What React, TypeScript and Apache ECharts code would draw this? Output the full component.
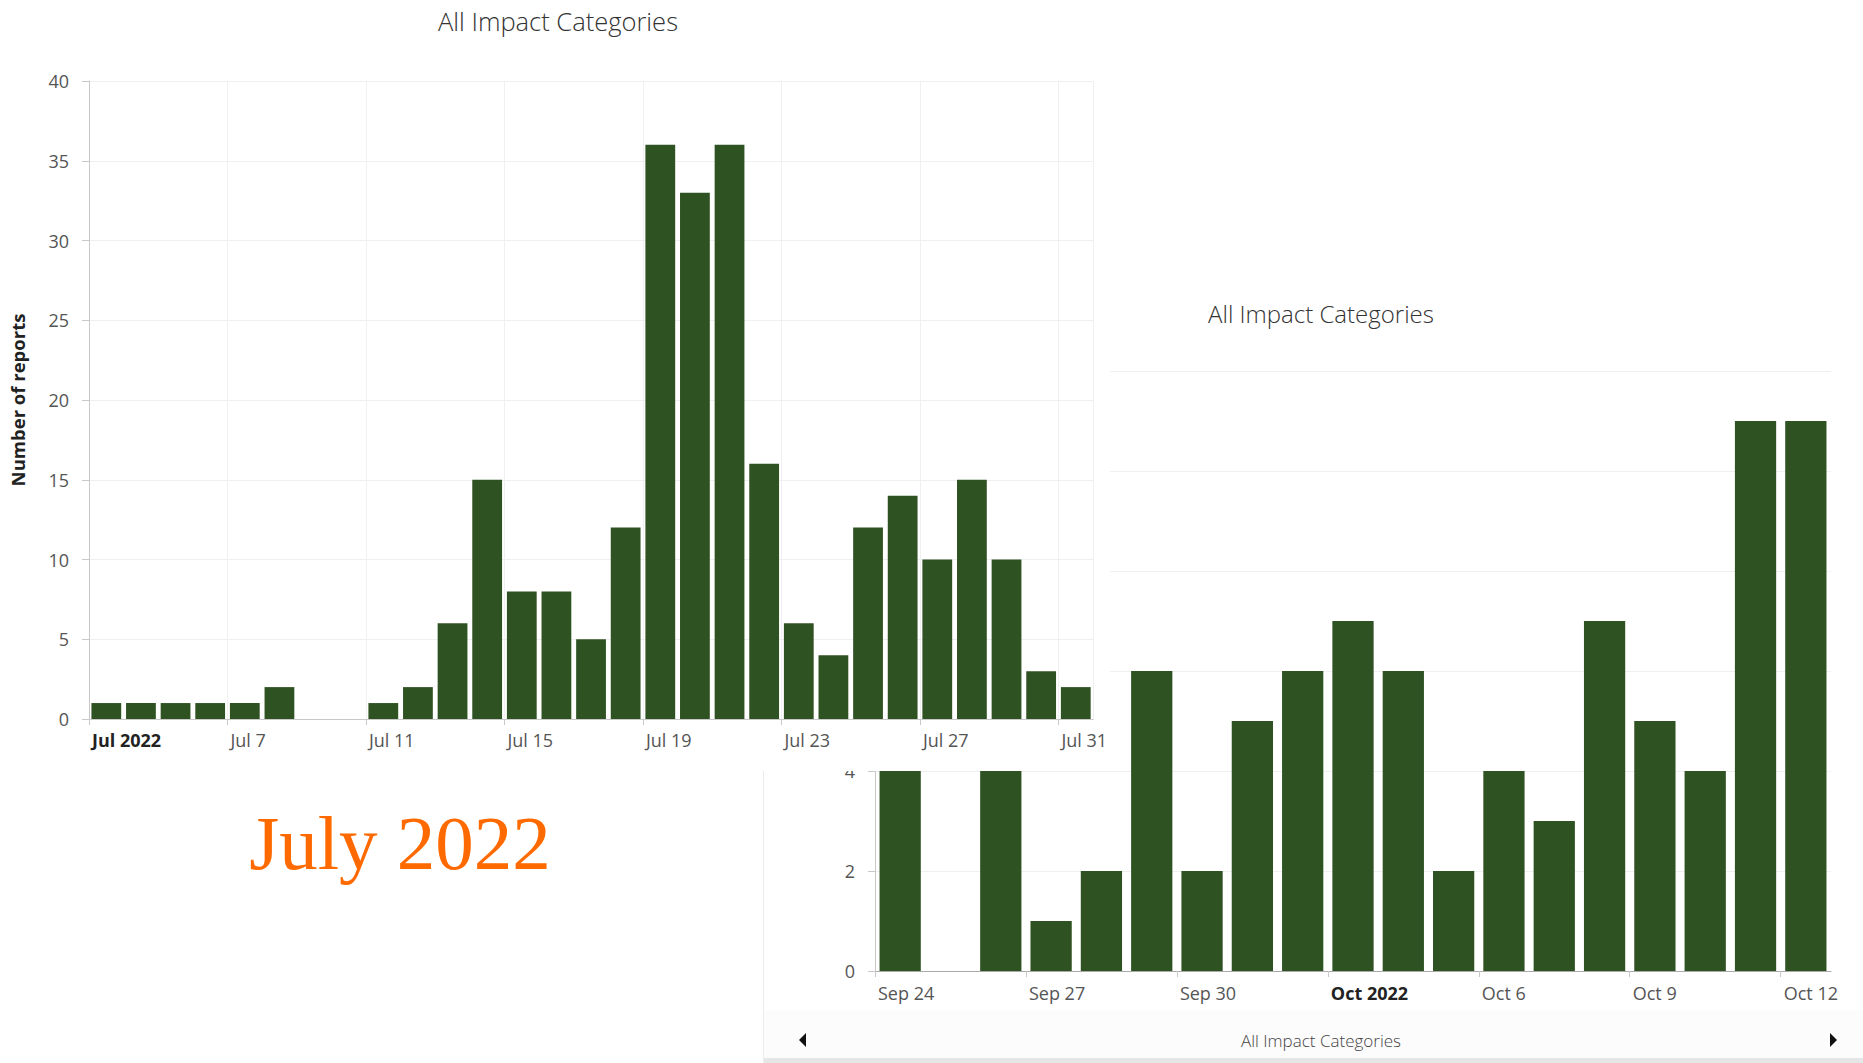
import React, { useEffect, useRef } from "react";
import * as echarts from "echarts";

// ---------- data ----------
const julyDays = [
  "Jul 3", "Jul 4", "Jul 5", "Jul 6", "Jul 7", "Jul 8", "Jul 9", "Jul 10",
  "Jul 11", "Jul 12", "Jul 13", "Jul 14", "Jul 15", "Jul 16", "Jul 17", "Jul 18",
  "Jul 19", "Jul 20", "Jul 21", "Jul 22", "Jul 23", "Jul 24", "Jul 25", "Jul 26",
  "Jul 27", "Jul 28", "Jul 29", "Jul 30", "Jul 31",
];
const julyReports = [
  1, 1, 1, 1, 1, 2, 0, 0, 1, 2, 6, 15, 8, 8, 5, 12, 36, 33, 36, 16, 6, 4, 12, 14, 10, 15, 10, 3, 2,
];
const julyTickLabels = ["Jul 2022", "Jul 7", "Jul 11", "Jul 15", "Jul 19", "Jul 23", "Jul 27", "Jul 31"];
const julyTickStep = 4;

const octDays = [
  "Sep 24", "Sep 25", "Sep 26", "Sep 27", "Sep 28", "Sep 29", "Sep 30", "Oct 1",
  "Oct 2", "Oct 3", "Oct 4", "Oct 5", "Oct 6", "Oct 7", "Oct 8", "Oct 9",
  "Oct 10", "Oct 11", "Oct 12",
];
const octReports = [5, 0, 5, 1, 2, 6, 2, 5, 6, 7, 6, 2, 4, 3, 7, 5, 4, 11, 11];
const octTickLabels = ["Sep 24", "Sep 27", "Sep 30", "Oct 2022", "Oct 6", "Oct 9", "Oct 12"];
const octTickStep = 3;

const chartTitle = "All Impact Categories";
const yAxisTitle = "Number of reports";
const bigCaption = "July 2022";

// ---------- style ----------
const FONT = "'Open Sans', 'Noto Sans', sans-serif";
const BAR = "#2f5222";
const AXIS = "#c8c8c8";
const GRID = "#f0f0f0";
const LABEL = "#555555";

function makeTickFormatter(labels: string[], step: number) {
  return (v: number) => {
    if (v % step !== 0) return "";
    const s = labels[Math.round(v / step)];
    if (!s) return "";
    return /\d{4}$/.test(s) ? `{b|${s}}` : s;
  };
}

function leftOption(): any {
  return {
    animation: false,
    textStyle: { fontFamily: FONT },
    graphic: [
      {
        type: "text",
        x: 558,
        y: 21,
        style: {
          text: chartTitle,
          fontFamily: FONT,
          fontSize: 25.5,
          fontWeight: 300,
          fill: "#333",
          align: "center",
          verticalAlign: "middle",
        },
      },
    ],
    grid: { left: 85, top: 81, width: 1012, height: 638 },
    xAxis: [
      {
        type: "category",
        data: julyDays,
        axisLine: { show: true, lineStyle: { color: AXIS } },
        axisTick: { show: false },
        axisLabel: { show: false },
        splitLine: { show: false },
      },
      {
        type: "value",
        position: "bottom",
        min: 0,
        max: julyDays.length,
        interval: julyTickStep,
        axisLine: { show: false },
        axisTick: { show: true, length: 6, lineStyle: { color: AXIS } },
        axisLabel: {
          align: "left",
          margin: 12,
          padding: [0, 0, 0, 3],
          color: LABEL,
          fontSize: 18,
          fontFamily: FONT,
          showMaxLabel: false,
          formatter: makeTickFormatter(julyTickLabels, julyTickStep),
          rich: { b: { fontWeight: "bold", color: "#222", fontSize: 18, fontFamily: FONT } },
        },
        splitLine: { show: true, lineStyle: { color: GRID } },
      },
    ],
    yAxis: {
      type: "value",
      min: 0,
      max: 40,
      interval: 5,
      name: yAxisTitle,
      nameLocation: "middle",
      nameRotate: 90,
      nameGap: 62,
      nameTextStyle: { fontWeight: "bold", fontSize: 18.5, color: "#222", fontFamily: FONT },
      axisLine: { show: true, lineStyle: { color: AXIS } },
      axisTick: { show: true, length: 7, lineStyle: { color: AXIS } },
      axisLabel: { margin: 20, color: LABEL, fontSize: 18, fontFamily: FONT },
      splitLine: { show: true, lineStyle: { color: GRID } },
    },
    series: [
      {
        type: "bar",
        xAxisIndex: 0,
        data: julyReports,
        barWidth: "86%",
        itemStyle: { color: BAR },
      },
    ],
  };
}

function rightOption(): any {
  return {
    animation: false,
    textStyle: { fontFamily: FONT },
    graphic: [
      { type: "rect", shape: { x: 763, y: 1010, width: 1100, height: 48 }, style: { fill: "#fcfcfc" }, z: -10 },
      { type: "rect", shape: { x: 763, y: 1058, width: 1100, height: 5 }, style: { fill: "#e6e6e6" }, z: -10 },
      { type: "line", shape: { x1: 763.5, y1: 771, x2: 763.5, y2: 1063 }, style: { stroke: "#ececec", lineWidth: 1 } },
      {
        type: "text",
        x: 1321,
        y: 313,
        style: { text: chartTitle, fontFamily: FONT, fontSize: 24, fontWeight: 300, fill: "#333", align: "center", verticalAlign: "middle" },
      },
      {
        type: "text",
        x: 1321,
        y: 1040,
        style: { text: chartTitle, fontFamily: FONT, fontSize: 17, fontWeight: 300, fill: "#444", align: "center", verticalAlign: "middle" },
      },
      { type: "polygon", shape: { points: [[799, 1040], [806, 1033], [806, 1047]] }, style: { fill: "#111" } },
      { type: "polygon", shape: { points: [[1837, 1040], [1830, 1033], [1830, 1047]] }, style: { fill: "#111" } },
      {
        type: "text",
        x: 400,
        y: 843,
        style: {
          text: bigCaption,
          fontFamily: "'Liberation Serif', 'DejaVu Serif', serif",
          fontSize: 77,
          fill: "#ff6a00",
          align: "center",
          verticalAlign: "middle",
        },
      },
    ],
    grid: { left: 875, top: 371, width: 956, height: 600 },
    xAxis: [
      {
        type: "category",
        data: octDays,
        axisLine: { show: true, lineStyle: { color: "#aaaaaa" } },
        axisTick: { show: false },
        axisLabel: { show: false },
        splitLine: { show: false },
      },
      {
        type: "value",
        position: "bottom",
        min: 0,
        max: octDays.length,
        interval: octTickStep,
        axisLine: { show: false },
        axisTick: { show: true, length: 6, lineStyle: { color: AXIS } },
        axisLabel: {
          align: "left",
          margin: 13,
          padding: [0, 0, 0, 3],
          color: LABEL,
          fontSize: 18,
          fontFamily: FONT,
          showMaxLabel: false,
          formatter: makeTickFormatter(octTickLabels, octTickStep),
          rich: { b: { fontWeight: "bold", color: "#222", fontSize: 18, fontFamily: FONT } },
        },
        splitLine: { show: false },
      },
    ],
    yAxis: {
      type: "value",
      min: 0,
      max: 12,
      interval: 2,
      axisLine: { show: true, lineStyle: { color: AXIS } },
      axisTick: { show: true, length: 7, lineStyle: { color: AXIS } },
      axisLabel: { margin: 20, color: LABEL, fontSize: 18, fontFamily: FONT },
      splitLine: { show: true, lineStyle: { color: GRID } },
    },
    series: [
      {
        type: "bar",
        xAxisIndex: 0,
        data: octReports,
        barWidth: "82%",
        itemStyle: { color: BAR },
      },
    ],
  };
}

function Chart({ style, option }: { style: React.CSSProperties; option: () => any }) {
  const ref = useRef<HTMLDivElement>(null);
  useEffect(() => {
    if (!ref.current) return;
    const chart = echarts.init(ref.current, undefined, { renderer: "svg" });
    chart.setOption(option());
    return () => chart.dispose();
  }, [option]);
  return <div ref={ref} style={style} />;
}

export default function App() {
  return (
    <div
      style={{
        position: "fixed",
        left: 0,
        top: 0,
        width: 1863,
        height: 1063,
        overflow: "hidden",
        background: "#ffffff",
      }}
    >
      <Chart
        option={rightOption}
        style={{ position: "absolute", left: 0, top: 0, width: 1863, height: 1063 }}
      />
      <Chart
        option={leftOption}
        style={{ position: "absolute", left: 0, top: 0, width: 1110, height: 771, background: "#ffffff", overflow: "hidden" }}
      />
    </div>
  );
}
